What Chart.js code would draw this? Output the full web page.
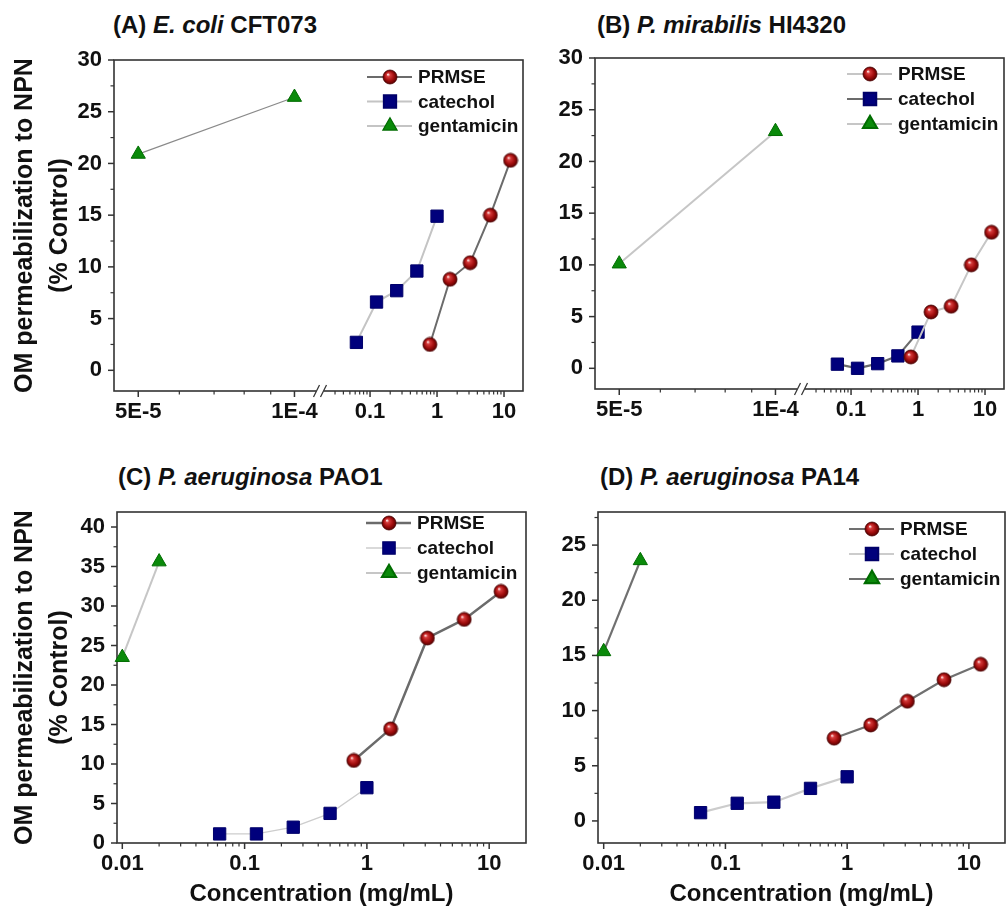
<!DOCTYPE html>
<html>
<head>
<meta charset="utf-8">
<script src="https://cdn.jsdelivr.net/npm/chart.js@4.4.1/dist/chart.umd.min.js"></script>
<style>
body { margin: 0; background: #fff; width: 1006px; height: 915px; position: relative; overflow: hidden;
       font-family: "Liberation Sans", Arial, Helvetica, sans-serif; }
canvas { position: absolute; }
.ttl { position: absolute; font-weight: bold; font-size: 24px; line-height: 28px; color: #111; white-space: nowrap; }
</style>
</head>
<body>
<div class="ttl" style="left:113px;top:11px">(A) <i>E. coli</i> CFT073</div>
<div class="ttl" style="left:597px;top:11px">(B) <i>P. mirabilis</i> HI4320</div>
<div class="ttl" style="left:118px;top:463px">(C) <i>P. aeruginosa</i> PAO1</div>
<div class="ttl" style="left:600px;top:463px">(D) <i>P. aeruginosa</i> PA14</div>

<canvas id="cA" width="530" height="460" style="left:0;top:0"></canvas>
<canvas id="cB" width="476" height="460" style="left:530px;top:0"></canvas>
<canvas id="cC" width="532" height="455" style="left:0;top:460px"></canvas>
<canvas id="cD" width="474" height="455" style="left:532px;top:460px"></canvas>

<script>
// concentrations (mg/mL)
const concPRMSE = [0.78125, 1.5625, 3.125, 6.25, 12.5];
const concCatechol = [0.0625, 0.125, 0.25, 0.5, 1];
const concGentAB = [5e-5, 1e-4];
const concGentCD = [0.01, 0.02];

// OM permeabilization (% control)
const prmseA = [2.5, 8.8, 10.4, 15.0, 20.3];
const catecholA = [2.7, 6.6, 7.7, 9.6, 14.9];
const gentA = [20.9, 26.4];

const prmseB = [1.1, 5.45, 6.0, 10.0, 13.15];
const catecholB = [0.4, 0.0, 0.45, 1.2, 3.5];
const gentB = [10.1, 22.9];

const prmseC = [10.45, 14.45, 25.95, 28.3, 31.85];
const catecholC = [1.15, 1.15, 2.0, 3.75, 7.0];
const gentC = [23.5, 35.6];

const prmseD = [7.5, 8.7, 10.85, 12.8, 14.2];
const catecholD = [0.75, 1.6, 1.7, 2.95, 4.0];
const gentD = [15.35, 23.6];

const seriesNames = ['PRMSE', 'catechol', 'gentamicin'];

// ticks
const yMajorAB = [0, 5, 10, 15, 20, 25, 30];
const yMinorAB = [2.5, 7.5, 12.5, 17.5, 22.5, 27.5];
const yMajorC = [0, 5, 10, 15, 20, 25, 30, 35, 40];
const yMinorC = [2.5, 7.5, 12.5, 17.5, 22.5, 27.5, 32.5, 37.5];
const yMajorD = [0, 5, 10, 15, 20, 25];
const yMinorD = [2.5, 7.5, 12.5, 17.5, 22.5, 27.5];

const xMajorLeft = [5e-5, 1e-4];
const xLabelsLeft = ['5E-5', '1E-4'];
const xMinorLeft = [6e-5, 7e-5, 8e-5, 9e-5];
const xMajorRight = [0.1, 1, 10];
const xLabelsRight = ['0.1', '1', '10'];
const xMinorRight = [0.03, 0.04, 0.05, 0.06, 0.07, 0.08, 0.09,
  0.2, 0.3, 0.4, 0.5, 0.6, 0.7, 0.8, 0.9, 2, 3, 4, 5, 6, 7, 8, 9];
const xMajorLog = [0.01, 0.1, 1, 10];
const xLabelsLog = ['0.01', '0.1', '1', '10'];
const xMinorLog = [0.02, 0.03, 0.04, 0.05, 0.06, 0.07, 0.08, 0.09,
  0.2, 0.3, 0.4, 0.5, 0.6, 0.7, 0.8, 0.9, 2, 3, 4, 5, 6, 7, 8, 9];

const fam = '"Liberation Sans", Arial, Helvetica, sans-serif';
const tickFont = {family: fam, size: 22, weight: 'bold'};

// red sphere marker used for PRMSE
function makeSphere(r) {
    const c = document.createElement('canvas');
    const s = Math.ceil(r * 2 + 2);
    c.width = s; c.height = s;
    const g = c.getContext('2d');
    const cx = s / 2, cy = s / 2;
    const grad = g.createRadialGradient(cx - r * 0.3, cy - r * 0.38, r * 0.05, cx, cy, r);
    grad.addColorStop(0, '#ffe4e4');
    grad.addColorStop(0.22, '#d53a3a');
    grad.addColorStop(0.65, '#a00d0d');
    grad.addColorStop(1, '#5a0000');
    g.fillStyle = grad;
    g.beginPath(); g.arc(cx, cy, r, 0, Math.PI * 2); g.fill();
    g.strokeStyle = '#4a0000'; g.lineWidth = 0.8; g.stroke();
    return c;
}
const sphere = makeSphere(7);

const markers = [
    {pointStyle: sphere, pointRadius: 7, bg: '#a00d0d', border: '#5a0000'},
    {pointStyle: 'rect', pointRadius: 8.7, bg: '#00007c', border: '#00006a'},
    {pointStyle: 'triangle', pointRadius: 8.2, bg: '#0a8a0a', border: '#006c00'}
];

function tickSetup(major, minor, labels) {
    return {
        afterBuildTicks: sc => {
            sc.ticks = major.map(v => ({value: v, major: true}))
                .concat(minor.map(v => ({value: v, major: false})))
                .filter(t => t.value >= sc.min && t.value <= sc.max)
                .sort((a, b) => a.value - b.value);
        },
        callback: v => {
            const i = major.indexOf(v);
            return i < 0 ? '' : labels[i];
        }
    };
}

function noPadding(sc) {
    sc.paddingLeft = 0; sc.paddingRight = 0; sc.paddingTop = 0; sc.paddingBottom = 0;
}

// frame, outward ticks and the axis break
const framePlugin = {
    id: 'frame',
    beforeDatasetsDraw(chart) {
        const ctx = chart.ctx, a = chart.chartArea;
        ctx.save();
        ctx.strokeStyle = '#333';
        Object.values(chart.scales).forEach(sc => {
            sc.ticks.forEach(t => {
                const len = t.major ? 6 : 3.5;
                const p = sc.getPixelForValue(t.value);
                ctx.lineWidth = t.major ? 1.5 : 1.2;
                ctx.beginPath();
                if (sc.isHorizontal()) { ctx.moveTo(p, a.bottom); ctx.lineTo(p, a.bottom + len); }
                else { ctx.moveTo(a.left - len, p); ctx.lineTo(a.left, p); }
                ctx.stroke();
            });
        });
        ctx.lineWidth = 1.6;
        ctx.strokeRect(a.left, a.top, a.right - a.left, a.bottom - a.top);
        if (chart.scales.xL) {
            const bx = chart.scales.xL.right, by = a.bottom;
            ctx.fillStyle = '#fff';
            ctx.fillRect(bx - 4, by - 2, 8, 4);
            ctx.lineWidth = 1.3;
            [-3.5, 3.5].forEach(dx => {
                ctx.beginPath();
                ctx.moveTo(bx + dx - 3, by + 6);
                ctx.lineTo(bx + dx + 3, by - 6);
                ctx.stroke();
            });
        }
        ctx.restore();
    }
};

// legend drawn inside the plot, top right
const insideLegend = {
    id: 'insideLegend',
    afterDatasetsDraw(chart, args, opts) {
        const ctx = chart.ctx, a = chart.chartArea;
        const x0 = a.right - opts.fromRight;
        chart.data.datasets.forEach((ds, i) => {
            const y = a.top + opts.top + i * opts.gap;
            ctx.save();
            ctx.strokeStyle = ds.borderColor;
            ctx.lineWidth = ds.borderWidth;
            ctx.beginPath(); ctx.moveTo(x0, y); ctx.lineTo(x0 + 45, y); ctx.stroke();
            ctx.fillStyle = ds.pointBackgroundColor;
            ctx.strokeStyle = ds.pointBorderColor;
            Chart.helpers.drawPoint(ctx, {pointStyle: ds.pointStyle, radius: ds.pointRadius, rotation: 0, borderWidth: 1}, x0 + 23, y);
            ctx.font = 'bold 19px ' + fam;
            ctx.fillStyle = '#111';
            ctx.textBaseline = 'middle';
            ctx.textAlign = 'left';
            ctx.fillText(ds.label, x0 + 51, y + 1);
            ctx.restore();
        });
    }
};

const panels = [
    {canvas: 'cA', broken: true, ys: [prmseA, catecholA, gentA],
     yMin: -2, yMax: 30, yMajor: yMajorAB, yMinor: yMinorAB, yTitle: true, xTitle: false,
     lines: [['#6b6b6b', 2], ['#c4c4c4', 2], ['#8a8a8a', 1.2]],
     top: 60, right: 7, yWidth: 114, xHeight: 69, legendTop: 17, legendGap: 24.5, legendRight: 156},
    {canvas: 'cB', broken: true, ys: [prmseB, catecholB, gentB],
     yMin: -2, yMax: 30, yMajor: yMajorAB, yMinor: yMinorAB, yTitle: false, xTitle: false,
     lines: [['#c6c6c6', 2], ['#6b6b6b', 2.2], ['#c6c6c6', 2]],
     top: 58, right: 2, yWidth: 65, xHeight: 71, legendTop: 16, legendGap: 25, legendRight: 157},
    {canvas: 'cC', broken: false, ys: [prmseC, catecholC, gentC],
     yMin: 0, yMax: 41.9, yMajor: yMajorC, yMinor: yMinorC, yTitle: true, xTitle: true,
     lines: [['#6b6b6b', 2.5], ['#cdcdcd', 1.3], ['#c6c6c6', 2]],
     top: 52, right: 6, yWidth: 117, xHeight: 72, legendTop: 11, legendGap: 25, legendRight: 160},
    {canvas: 'cD', broken: false, ys: [prmseD, catecholD, gentD],
     yMin: -2, yMax: 28, yMajor: yMajorD, yMinor: yMinorD, yTitle: false, xTitle: true,
     lines: [['#707070', 2.2], ['#cccccc', 2.2], ['#707070', 2.2]],
     top: 52, right: 1, yWidth: 66, xHeight: 72, legendTop: 17, legendGap: 25, legendRight: 156}
];

panels.forEach(p => {
    const xs = [concPRMSE, concCatechol, p.broken ? concGentAB : concGentCD];
    const datasets = seriesNames.map((name, k) => ({
        label: name,
        data: xs[k].map((x, i) => ({x: x, y: p.ys[k][i]})),
        showLine: true,
        tension: 0,
        borderColor: p.lines[k][0],
        borderWidth: p.lines[k][1],
        pointStyle: markers[k].pointStyle,
        pointRadius: markers[k].pointRadius,
        pointBackgroundColor: markers[k].bg,
        pointBorderColor: markers[k].border,
        pointBorderWidth: 1,
        clip: false,
        xAxisID: p.broken ? (k === 2 ? 'xL' : 'xR') : 'x'
    }));

    const yt = tickSetup(p.yMajor, p.yMinor, p.yMajor.map(String));
    const scales = {
        y: {
            type: 'linear', min: p.yMin, max: p.yMax,
            grid: {display: false, drawTicks: false}, border: {display: false},
            afterBuildTicks: yt.afterBuildTicks,
            afterFit: sc => { sc.width = p.yWidth; noPadding(sc); },
            ticks: {autoSkip: false, padding: 12, font: tickFont, color: '#111', callback: yt.callback},
            title: p.yTitle ? {
                display: true, text: ['OM permeabilization to NPN', '(% Control)'], color: '#111',
                font: {family: fam, size: 25, weight: 'bold', lineHeight: 1.4},
                padding: {top: 8, bottom: 0}
            } : {display: false}
        }
    };

    function xAxis(min, max, major, minor, labels, extra) {
        const t = tickSetup(major, minor, labels);
        return Object.assign({
            type: 'logarithmic', position: 'bottom', min: min, max: max,
            grid: {display: false, drawTicks: false}, border: {display: false},
            afterBuildTicks: t.afterBuildTicks,
            afterFit: sc => { sc.height = p.xHeight; noPadding(sc); },
            ticks: {autoSkip: false, maxRotation: 0, padding: 8, font: tickFont, color: '#111', callback: t.callback},
            title: p.xTitle ? {
                display: true, text: 'Concentration (mg/mL)', color: '#111',
                font: {family: fam, size: 24, weight: 'bold'},
                padding: {top: 0, bottom: 6}
            } : {display: false}
        }, extra || {});
    }

    if (p.broken) {
        scales.xL = xAxis(4.49e-5, 1.12e-4, xMajorLeft, xMinorLeft, xLabelsLeft, {stack: 'x', stackWeight: 206});
        scales.xR = xAxis(0.0179, 19.2, xMajorRight, xMinorRight, xLabelsRight, {stack: 'x', stackWeight: 203});
    } else {
        scales.x = xAxis(p.canvas === 'cC' ? 0.00905 : 0.00898, p.canvas === 'cC' ? 20 : 19.8,
            xMajorLog, xMinorLog, xLabelsLog);
    }

    new Chart(document.getElementById(p.canvas), {
        type: 'scatter',
        data: {datasets: datasets},
        options: {
            responsive: false,
            animation: false,
            events: [],
            layout: {padding: {top: p.top, right: p.right, left: 0, bottom: 0}, autoPadding: false},
            scales: scales,
            plugins: {
                legend: {display: false},
                tooltip: {enabled: false},
                insideLegend: {top: p.legendTop, gap: p.legendGap, fromRight: p.legendRight}
            }
        },
        plugins: [framePlugin, insideLegend]
    });
});
</script>
</body>
</html>
